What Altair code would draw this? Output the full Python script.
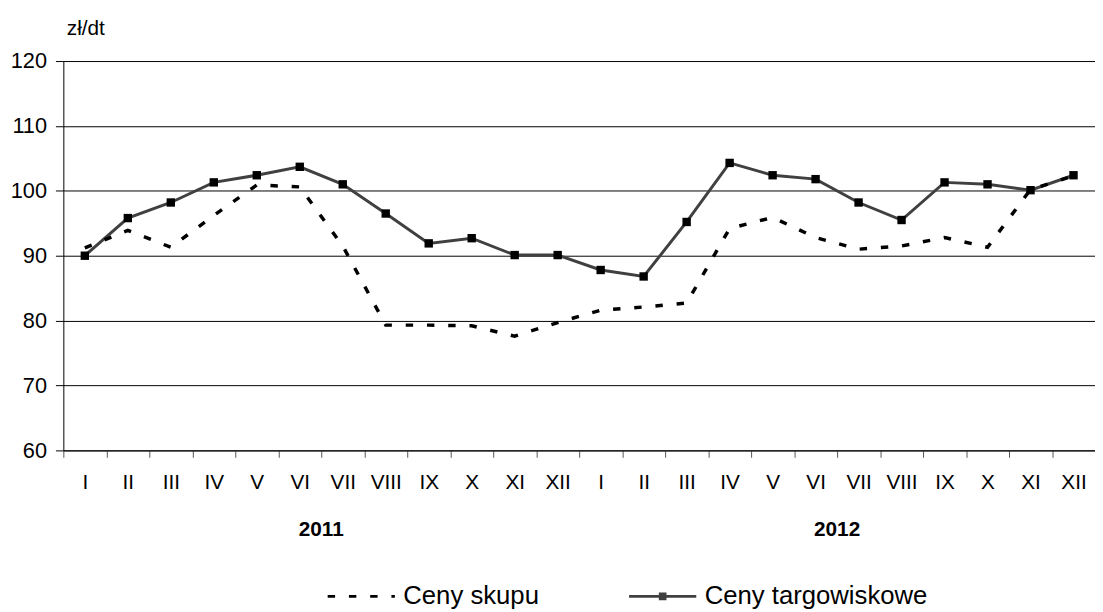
import altair as alt
import pandas as pd

# ---- data ----
months = ["I", "II", "III", "IV", "V", "VI", "VII", "VIII", "IX", "X", "XI", "XII"]
years = ["2011", "2012"]
series = ["Ceny skupu", "Ceny targowiskowe"]
ceny_skupu = [91.2, 93.9, 91.3, 96.2, 100.9, 100.6, 91.5, 79.3, 79.3, 79.2, 77.6, 79.7,
              81.6, 82.1, 82.7, 94.2, 95.9, 92.8, 91.0, 91.5, 92.8, 91.3, 100.2, 102.3]
ceny_targ = [90.0, 95.8, 98.2, 101.3, 102.4, 103.7, 101.0, 96.5, 91.9, 92.7, 90.1, 90.1,
             87.8, 86.8, 95.2, 104.3, 102.4, 101.8, 98.2, 95.5, 101.3, 101.0, 100.1, 102.4]
y_ticks = [60, 70, 80, 90, 100, 110, 120]
unit_label = "zł/dt"

keys = [f"{m} {y}" for y in years for m in months]
rows = []
for k, a, b in zip(keys, ceny_skupu, ceny_targ):
    rows.append({"key": k, "series": series[0], "value": a})
    rows.append({"key": k, "series": series[1], "value": b})
df = pd.DataFrame(rows)
year_df = pd.DataFrame({"key": ["VI 2011", "VI 2012"], "label": years})

FONT = "Liberation Sans"
W, H = 1044, 394

x_axis = alt.Axis(title=None, tickBand="extent", labelExpr="split(datum.label, ' ')[0]",
                  labelFont=FONT, labelFontSize=21, labelColor="black", labelAngle=0,
                  labelBaseline="middle", labelPadding=26, tickSize=7, tickColor="#555555",
                  domainColor="black", domainWidth=1, grid=False)
x_enc = alt.X("key:N", sort=keys, bandPosition=0.5,
              scale=alt.Scale(type="band", domain=keys, paddingInner=0, paddingOuter=0),
              axis=x_axis)
y_enc = alt.Y("value:Q", scale=alt.Scale(domain=[60, 120], nice=False, zero=False),
              axis=alt.Axis(values=y_ticks, grid=True, gridColor="black", gridWidth=1,
                            domainColor="black", tickColor="black", tickSize=8,
                            labelFont=FONT, labelFontSize=22, labelColor="black", labelPadding=9,
                            title=unit_label, titleAngle=0, titleX=3, titleY=-33,
                            titleAlign="left", titleBaseline="middle", titleFont=FONT,
                            titleFontSize=21, titleFontWeight="normal", titleColor="black"))

base = alt.Chart(df).encode(x=x_enc, y=y_enc)

line_targ = base.transform_filter(alt.datum.series == series[1]).mark_line(
    color="#404040", strokeWidth=3)
line_skupu = base.transform_filter(alt.datum.series == series[0]).mark_line(
    color="black", strokeWidth=3.5, strokeDash=[7.5, 14])
pts = base.transform_filter(alt.datum.series == series[1]).mark_square(
    size=72, color="black", opacity=1)

leg = alt.Legend(orient="none", legendX=266, legendY=506, direction="horizontal", title=None,
                 symbolSize=4624, symbolStrokeWidth=3, symbolOpacity=1, symbolFillColor="black",
                 labelFont=FONT, labelFontSize=26, labelColor="black", labelOffset=7,
                 columnPadding=84, labelLimit=400)
shapes = ["M-1,0H1", "M-1,0H1M-0.07,-0.07H0.07V0.07H-0.07Z"]
legend_layer = base.mark_point(opacity=0, filled=False).encode(
    shape=alt.Shape("series:N", scale=alt.Scale(domain=series, range=shapes), legend=leg),
    strokeDash=alt.StrokeDash("series:N", scale=alt.Scale(domain=series, range=[[7.5, 14], [1, 0]]), legend=leg),
    stroke=alt.Stroke("series:N", scale=alt.Scale(domain=series, range=["black", "#404040"]), legend=leg),
)

years_text = alt.Chart(year_df).mark_text(font=FONT, fontSize=21, fontWeight="bold",
                                          color="black", baseline="middle", align="center").encode(
    x=alt.X("key:N", sort=keys, bandPosition=1,
            scale=alt.Scale(type="band", domain=keys, paddingInner=0, paddingOuter=0)),
    y=alt.value(475),
    text="label:N",
)

chart = alt.layer(line_targ, line_skupu, pts, legend_layer, years_text).properties(
    width=W, height=H,
    autosize=alt.AutoSizeParams(type="none"),
    padding={"left": 56, "top": 50, "right": 0, "bottom": 170},
    background="white",
).configure_view(stroke=None)

chart.save("out.html", embed_options={"renderer": "svg", "actions": False})
